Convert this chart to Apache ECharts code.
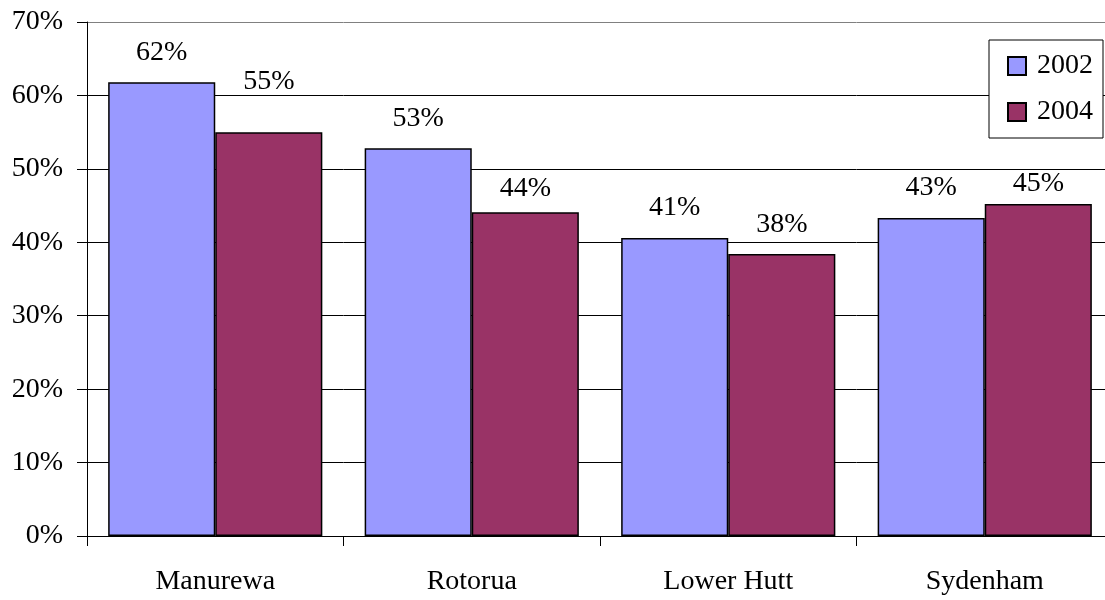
<!DOCTYPE html>
<html><head><meta charset="utf-8">
<script src="https://cdn.jsdelivr.net/npm/echarts@6/dist/echarts.min.js"></script>
<style>html,body{margin:0;padding:0;background:#fff;overflow:hidden}#c{width:1113px;height:600px}</style>
</head><body><div id="c"></div>
<script>
const categories = ['Manurewa', 'Rotorua', 'Lower Hutt', 'Sydenham'];
const seriesNames = ['2002', '2004'];
const values2002 = [61.8, 52.8, 40.6, 43.3];
const values2004 = [55.0, 44.1, 38.4, 45.2];
const yTicks = [0, 10, 20, 30, 40, 50, 60, 70];

// label layout (pixel distance above bar top), kept separate from data
const labelDist2002 = [16, 16, 16, 16];
const labelDist2004 = [37, 10, 15, 6];

const font = '"Liberation Serif", "DejaVu Serif", serif';
const FS = 28;
const chart = echarts.init(document.getElementById('c'));
function labelCfg() {
  return {
    show: true, position: 'top', distance: 16, color: '#000',
    fontFamily: font, fontSize: FS,
    formatter: p => Math.round(p.value) + '%'
  };
}
function withDist(vals, dists) {
  return vals.map((v, i) => ({ value: v, label: { distance: dists[i] } }));
}
chart.setOption({
  animation: false,
  backgroundColor: '#fff',
  grid: { left: 87, right: 0, top: 22, bottom: 64 },
  legend: {
    orient: 'vertical', right: 10, top: 40,
    data: seriesNames,
    icon: 'rect', itemWidth: 18, itemHeight: 18, itemGap: 18,
    backgroundColor: '#fff', borderColor: '#000', borderWidth: 1,
    padding: [12, 10, 12, 18],
    textStyle: { fontFamily: font, fontSize: FS, color: '#000', padding: [0, 0, 0, 6] }
  },
  xAxis: {
    type: 'category', data: categories,
    axisLine: { lineStyle: { color: '#000', width: 1 } },
    axisTick: { show: true, length: 10, lineStyle: { color: '#000' } },
    axisLabel: { color: '#000', fontFamily: font, fontSize: FS, margin: 32 }
  },
  yAxis: {
    type: 'value', min: yTicks[0], max: yTicks[yTicks.length - 1], interval: 10,
    axisLine: { show: true, lineStyle: { color: '#000', width: 1 } },
    axisTick: { show: true, length: 10, lineStyle: { color: '#000' } },
    axisLabel: { color: '#000', fontFamily: font, fontSize: FS, margin: 24, formatter: v => v + '%' },
    splitLine: { lineStyle: { color: ['#000','#000','#000','#000','#000','#000','#000','#808080'], width: 1 } }
  },
  series: [
    { name: seriesNames[0], type: 'bar', data: withDist(values2002, labelDist2002), barGap: '0%', barCategoryGap: '16.5%',
      itemStyle: { color: '#9999FF', borderColor: '#000', borderWidth: 1.5 }, label: labelCfg() },
    { name: seriesNames[1], type: 'bar', data: withDist(values2004, labelDist2004),
      itemStyle: { color: '#993366', borderColor: '#000', borderWidth: 1.5 }, label: labelCfg() }
  ]
});
</script></body></html>
